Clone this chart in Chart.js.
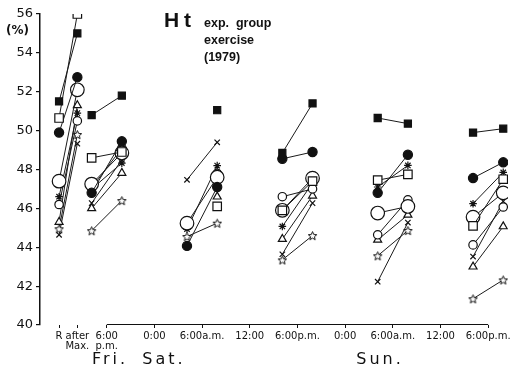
<!DOCTYPE html>
<html>
<head>
<meta charset="utf-8">
<script src="https://cdn.jsdelivr.net/npm/chart.js@4.4.1/dist/chart.umd.min.js"></script>
<style>
  html, body { margin: 0; padding: 0; background: #fff; }
  #wrap { width: 516px; height: 372px; }
</style>
</head>
<body>
<div id="wrap"><canvas id="htChart"></canvas></div>
<script>
  // hours counted from Fri 6:00 p.m.; R and "after Max." sit left of zero
  const times = [-6, -3.7, -1.9, 1.9, 10.1, 13.9, 22.1, 25.9, 34.1, 37.9, 46.1, 49.9];
  const tickValues = [-6, -3.7, 0, 6, 12, 18, 24, 30, 36, 42, 48];
  const tickLabels = [
    "R",
    ["after", "Max."],
    ["6:00", "p.m."],
    "0:00",
    "6:00a.m.",
    "12:00",
    "6:00p.m.",
    "0:00",
    "6:00a.m.",
    "12:00",
    "6:00p.m.",
  ];

  // Ht (%) per subject: R, after Max., then before/after pairs for each session
  const squareFilled = [51.5, 55.0, 50.8, 51.8, null, 51.05, 48.85, 51.4, 50.65, 50.36, 49.9, 50.1];
  const squareOpen = [50.65, 56.0, 48.6, 48.9, null, 46.1, 45.9, 47.4, 47.45, 47.75, 45.1, 47.5];
  const circleFilled = [49.9, 52.75, 46.8, 49.45, 44.07, 47.1, 48.55, 48.9, 46.8, 48.76, 47.56, 48.37];
  const circleLarge = [47.4, 52.1, 47.25, 48.85, 45.24, 47.6, 45.9, 47.55, 45.76, 46.1, 45.55, 46.8];
  const circleSmall = [46.2, 50.5, 47.05, 49.1, null, 47.8, 46.6, 47.0, 44.64, 46.44, 44.12, 46.07];
  const asterisk = [46.6, 50.9, 47.0, 48.33, 44.93, 48.2, 45.07, 47.3, 47.1, 48.21, 46.24, 47.85];
  const triangle = [45.3, 51.3, 46.0, 47.82, null, 46.6, 44.42, 46.65, 44.38, 45.67, 43.0, 45.07];
  const star = [44.95, 49.8, 44.85, 46.4, 44.55, 45.24, 43.35, 44.6, 43.56, 44.86, 41.35, 42.32];
  const cross = [44.64, 49.33, 46.27, 48.5, 47.47, 49.4, 43.64, 46.27, 42.23, 45.27, 43.52, 46.36];

  // pairs of points joined by a line, broken between sessions
  function toPoints(values) {
    const pts = [];
    for (let i = 0; i < times.length; i += 2) {
      pts.push({ x: times[i], y: values[i] });
      pts.push({ x: times[i + 1], y: values[i + 1] });
      pts.push({ x: (times[i + 1] + (times[i + 2] ?? times[i + 1] + 1)) / 2, y: null });
    }
    return pts;
  }

  // five-pointed open star marker
  function makeStar(size) {
    const c = document.createElement("canvas");
    c.width = size;
    c.height = size;
    const g = c.getContext("2d");
    const cx = size / 2, cy = size / 2 + 0.5, ro = size / 2 - 1, ri = ro * 0.45;
    g.beginPath();
    for (let k = 0; k < 10; k++) {
      const r = k % 2 === 0 ? ro : ri;
      const a = -Math.PI / 2 + (k * Math.PI) / 5;
      const px = cx + r * Math.cos(a), py = cy + r * Math.sin(a);
      k === 0 ? g.moveTo(px, py) : g.lineTo(px, py);
    }
    g.closePath();
    g.fillStyle = "#fff";
    g.fill();
    g.lineWidth = 1;
    g.strokeStyle = "#111";
    g.stroke();
    return c;
  }

  function series(label, values, style, radius, fill) {
    return {
      label: label,
      data: toPoints(values),
      showLine: true,
      spanGaps: false,
      borderColor: "#1a1a1a",
      borderWidth: 1,
      pointStyle: style,
      pointRadius: radius,
      pointBorderWidth: 1.2,
      pointBorderColor: "#111",
      pointBackgroundColor: fill,
    };
  }

  const ink = "#111";

  const decorations = {
    id: "decorations",
    afterDraw(chart) {
      const { ctx, chartArea, scales } = chart;
      const x = scales.x;
      ctx.save();
      // time axis line only spans the clock ticks
      ctx.strokeStyle = ink;
      ctx.lineWidth = 1.2;
      ctx.beginPath();
      ctx.moveTo(x.getPixelForValue(0), chartArea.bottom - 0.5);
      ctx.lineTo(x.getPixelForValue(48), chartArea.bottom - 0.5);
      ctx.stroke();

      ctx.fillStyle = ink;
      ctx.textBaseline = "alphabetic";
      ctx.font = "bold 21px 'Liberation Sans'";
      ctx.fillText("H", 164, 27);
      ctx.fillText("t", 184, 27);
      ctx.font = "bold 12.5px 'Liberation Sans'";
      ctx.fillText("exp.  group", 204, 27);
      ctx.fillText("exercise", 204, 44);
      ctx.fillText("(1979)", 204, 61);

      ctx.font = "bold 12px 'DejaVu Sans'";
      ctx.fillText("(%)", 6, 34);

      ctx.font = "16px 'DejaVu Sans'";
      ctx.letterSpacing = "3px";
      ctx.textAlign = "center";
      ctx.fillText("Fri.", 110, 364);
      ctx.fillText("Sat.", 164, 364);
      ctx.fillText("Sun.", 380, 364);
      ctx.restore();
    },
  };

  const chart = new Chart(document.getElementById("htChart"), {
    type: "scatter",
    data: {
      datasets: [
        series("filled square", squareFilled, "rect", 5, ink),
        series("open square", squareOpen, "rect", 6, "#fff"),
        series("filled circle", circleFilled, "circle", 4.6, ink),
        series("large circle", circleLarge, "circle", 6.8, "#fff"),
        series("small circle", circleSmall, "circle", 4.2, "#fff"),
        series("asterisk", asterisk, "star", 3.8, "#fff"),
        series("triangle", triangle, "triangle", 4.6, "#fff"),
        series("star", star, makeStar(11), 5, "#fff"),
        series("cross", cross, "crossRot", 3.8, "#fff"),
      ],
    },
    options: {
      responsive: true,
      maintainAspectRatio: false,
      animation: false,
      layout: {
        padding: { top: 14, right: 0, bottom: 0, left: 0 },
      },
      scales: {
        x: {
          type: "linear",
          min: -8.4,
          max: 50.5,
          afterBuildTicks(scale) {
            scale.ticks = tickValues.map((v) => ({ value: v }));
          },
          afterFit(scale) {
            scale.height = 47;
            scale.paddingLeft = 0;
            scale.paddingRight = 0;
          },
          border: { display: false },
          grid: {
            drawOnChartArea: false,
            tickLength: 3,
            color: ink,
            lineWidth: 1,
          },
          ticks: {
            autoSkip: false,
            maxRotation: 0,
            padding: 3,
            color: ink,
            font: { family: "'DejaVu Sans'", size: 10, lineHeight: 1.05 },
            callback: (value, index) => tickLabels[index],
          },
        },
        y: {
          min: 40,
          max: 56,
          afterFit(scale) {
            scale.width = 40;
          },
          border: { display: true, color: ink, width: 1.5 },
          grid: {
            drawOnChartArea: false,
            tickLength: 4,
            color: ink,
            lineWidth: 1.2,
          },
          ticks: {
            stepSize: 2,
            padding: 3,
            color: ink,
            font: { family: "'DejaVu Sans'", size: 13 },
          },
        },
      },
      plugins: {
        legend: { display: false },
        tooltip: { enabled: false },
      },
    },
    plugins: [decorations],
  });
</script>
</body>
</html>
